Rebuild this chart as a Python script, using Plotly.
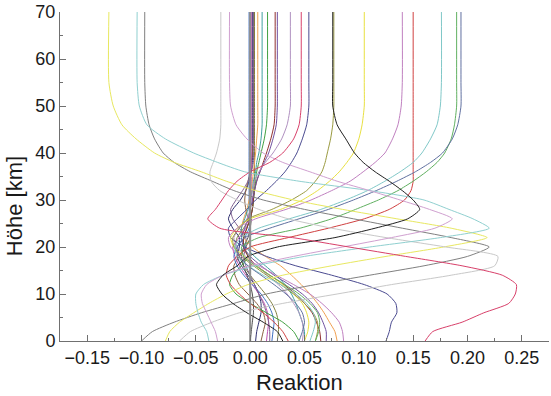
import plotly.graph_objects as go

# Heights (km) at which each response curve is sampled
H = [0, 2, 4, 6, 8, 10, 12, 14, 16, 18, 20, 22, 24, 26, 28, 30, 32, 34, 36, 38, 40, 43, 46, 50, 55, 70]

gray_k = [-0.100, -0.090, -0.070, -0.045, -0.015, 0.015, 0.060, 0.110, 0.160, 0.200, 0.220, 0.185, 0.140, 0.095, 0.050, 0.012, -0.015, -0.035, -0.055, -0.070, -0.080, -0.088, -0.093, -0.096, -0.097, -0.097]
yellow_k = [-0.078, -0.074, -0.065, -0.052, -0.038, -0.022, -0.002, 0.030, 0.075, 0.125, 0.178, 0.218, 0.185, 0.135, 0.085, 0.040, 0.005, -0.022, -0.045, -0.070, -0.088, -0.105, -0.118, -0.126, -0.130, -0.130]
ltgray_k = [-0.065, -0.055, -0.035, -0.010, 0.030, 0.080, 0.130, 0.185, 0.225, 0.228, 0.180, 0.125, 0.075, 0.035, 0.008, -0.012, -0.028, -0.036, -0.037, -0.034, -0.031, -0.028, -0.027, -0.027, -0.027, -0.027]
ltcyan_k = [-0.038, -0.040, -0.045, -0.048, -0.050, -0.050, -0.043, -0.025, 0.005, 0.050, 0.110, 0.175, 0.220, 0.205, 0.183, 0.160, 0.110, 0.045, -0.005, -0.030, -0.052, -0.078, -0.095, -0.102, -0.104, -0.104]
orchid_k = [-0.030, -0.032, -0.036, -0.040, -0.044, -0.045, -0.040, -0.025, 0.000, 0.040, 0.085, 0.130, 0.170, 0.186, 0.165, 0.138, 0.110, 0.080, 0.055, 0.030, 0.012, -0.003, -0.013, -0.018, -0.019, -0.019]
black_k = [0.030, 0.025, 0.012, -0.003, -0.016, -0.026, -0.031, -0.025, -0.012, -0.002, 0.025, 0.078, 0.115, 0.145, 0.156, 0.150, 0.140, 0.128, 0.115, 0.104, 0.096, 0.088, 0.080, 0.076, 0.076, 0.076]
crimson_k = [0.161, 0.168, 0.195, 0.215, 0.238, 0.244, 0.245, 0.232, 0.195, 0.143, 0.091, 0.039, -0.028, -0.039, -0.032, -0.026, -0.020, -0.012, 0.000, 0.018, 0.030, 0.040, 0.045, 0.047, 0.047, 0.047]
navy_k = [0.125, 0.128, 0.130, 0.135, 0.134, 0.126, 0.105, 0.075, 0.042, 0.015, -0.005, -0.018, -0.020, -0.012, -0.003, 0.005, 0.015, 0.024, 0.032, 0.038, 0.043, 0.048, 0.052, 0.054, 0.054, 0.054]
yellow2_k = [0.050, 0.053, 0.054, 0.052, 0.048, 0.040, 0.030, 0.018, 0.005, -0.005, -0.015, -0.018, -0.012, 0.000, 0.028, 0.048, 0.062, 0.073, 0.082, 0.089, 0.095, 0.100, 0.103, 0.105, 0.105, 0.105]
olive_k = [0.060, 0.062, 0.062, 0.058, 0.050, 0.040, 0.028, 0.015, 0.003, -0.008, -0.015, -0.016, -0.010, -0.002, 0.020, 0.038, 0.052, 0.060, 0.066, 0.069, 0.071, 0.074, 0.076, 0.077, 0.077, 0.077]
orchid2_k = [0.086, 0.085, 0.082, 0.075, 0.066, 0.055, 0.040, 0.024, 0.008, -0.008, -0.018, -0.020, -0.012, 0.005, 0.033, 0.056, 0.075, 0.092, 0.104, 0.115, 0.124, 0.131, 0.136, 0.139, 0.140, 0.140]
red_k = [0.035, 0.030, 0.022, 0.012, 0.000, -0.010, -0.018, -0.022, -0.020, -0.012, 0.000, 0.035, 0.072, 0.105, 0.128, 0.142, 0.148, 0.150, 0.150, 0.150, 0.150, 0.150, 0.150, 0.150, 0.150, 0.150]
cyan2_k = [0.055, 0.058, 0.060, 0.058, 0.052, 0.042, 0.028, 0.012, -0.002, -0.012, -0.014, -0.008, 0.008, 0.036, 0.065, 0.088, 0.108, 0.124, 0.138, 0.150, 0.158, 0.166, 0.172, 0.175, 0.176, 0.176]
green2_k = [0.060, 0.063, 0.064, 0.062, 0.055, 0.045, 0.032, 0.018, 0.005, -0.006, -0.008, 0.008, 0.046, 0.075, 0.097, 0.118, 0.136, 0.150, 0.162, 0.172, 0.179, 0.185, 0.188, 0.190, 0.190, 0.190]
slate2_k = [0.045, 0.048, 0.050, 0.048, 0.042, 0.033, 0.022, 0.010, -0.002, -0.010, -0.012, -0.005, 0.018, 0.045, 0.072, 0.095, 0.116, 0.135, 0.152, 0.166, 0.177, 0.186, 0.191, 0.194, 0.194, 0.194]
orange_k = [0.080, 0.078, 0.073, 0.068, 0.062, 0.055, 0.047, 0.038, 0.028, 0.014, 0.002, -0.006, -0.008, -0.006, -0.003, -0.001, 0.001, 0.002, 0.003, 0.004, 0.005, 0.006, 0.007, 0.007, 0.007, 0.007]
teal_k = [0.050, 0.050, 0.048, 0.045, 0.042, 0.038, 0.032, 0.024, 0.014, 0.004, -0.004, -0.008, -0.008, -0.005, -0.002, 0.000, 0.002, 0.003, 0.005, 0.006, 0.008, 0.010, 0.011, 0.011, 0.011, 0.011]
green_k = [0.045, 0.040, 0.030, 0.015, 0.000, -0.013, -0.019, -0.016, -0.008, -0.002, -0.006, -0.006, -0.003, 0.000, 0.002, 0.003, 0.004, 0.005, 0.006, 0.008, 0.010, 0.013, 0.015, 0.016, 0.016, 0.016]
darkred_k = [0.065, 0.064, 0.061, 0.057, 0.050, 0.042, 0.031, 0.018, 0.006, -0.002, -0.006, -0.006, -0.003, 0.000, 0.002, 0.003, 0.004, 0.006, 0.009, 0.012, 0.015, 0.019, 0.022, 0.023, 0.023, 0.023]
purple_k = [0.070, 0.070, 0.067, 0.063, 0.057, 0.048, 0.036, 0.022, 0.010, 0.000, -0.006, -0.008, -0.005, -0.002, 0.000, 0.002, 0.004, 0.006, 0.009, 0.013, 0.017, 0.021, 0.024, 0.025, 0.025, 0.025]
ltpurple_k = [0.048, 0.049, 0.048, 0.045, 0.040, 0.034, 0.026, 0.016, 0.006, -0.004, -0.012, -0.015, -0.010, -0.003, 0.000, 0.001, 0.002, 0.004, 0.008, 0.014, 0.021, 0.029, 0.034, 0.037, 0.037, 0.037]
bnavy_k = [0.005, 0.006, 0.008, 0.010, 0.010, 0.008, 0.004, -0.002, -0.008, -0.012, -0.010, -0.010, -0.016, -0.020, -0.016, -0.009, -0.004, -0.001, 0.001, 0.002, 0.002, 0.002, 0.002, 0.002, 0.002, 0.002]
bbrown_k = [0.010, 0.012, 0.014, 0.012, 0.006, -0.002, -0.010, -0.014, -0.015, -0.010, -0.004, 0.000, 0.000, -0.002, -0.004, -0.005, -0.004, -0.002, 0.000, 0.001, 0.002, 0.003, 0.003, 0.003, 0.003, 0.003]
bmag_k = [0.015, 0.016, 0.017, 0.016, 0.013, 0.008, 0.002, -0.004, -0.010, -0.014, -0.016, -0.010, -0.004, 0.000, 0.002, 0.002, 0.001, 0.001, 0.001, 0.001, 0.001, 0.001, 0.001, 0.001, 0.001, 0.001]
bblue_k = [0.020, 0.021, 0.022, 0.020, 0.016, 0.010, 0.002, -0.006, -0.012, -0.015, -0.012, -0.005, -0.001, 0.000, -0.001, -0.001, -0.001, -0.001, -0.001, -0.001, -0.001, -0.001, -0.001, -0.001, -0.001, -0.001]
bolive_k = [0.025, 0.026, 0.026, 0.024, 0.020, 0.014, 0.007, 0.000, -0.006, -0.010, -0.014, -0.012, -0.006, -0.001, 0.002, 0.003, 0.003, 0.004, 0.004, 0.004, 0.004, 0.004, 0.004, 0.004, 0.004, 0.004]
bpurple_k = [0.018, 0.018, 0.017, 0.015, 0.012, 0.008, 0.004, 0.000, -0.004, -0.006, -0.004, -0.004, -0.010, -0.016, -0.018, -0.013, -0.007, -0.002, 0.001, 0.003, 0.003, 0.003, 0.003, 0.003, 0.003, 0.003]
bdgray_k = [0.000, 0.001, 0.002, 0.003, 0.003, 0.002, 0.000, -0.003, -0.006, -0.008, -0.006, -0.002, 0.000, 0.001, 0.000, 0.000, 0.000, 0.000, 0.000, 0.000, 0.000, 0.000, 0.000, 0.000, 0.000, 0.000]
zero_k = [0.000, 0.000, 0.000, 0.000, 0.000, 0.000, 0.000, 0.000, 0.000, 0.000, 0.000, 0.000, 0.000, 0.000, 0.000, 0.000, 0.000, 0.000, 0.000, 0.000, 0.000, 0.000, 0.000, 0.000, 0.000, 0.000]

series = [
    (bnavy_k, "#303070", 1), (bbrown_k, "#8a6040", 1), (bmag_k, "#c050b0", 1),
    (bblue_k, "#4070c0", 1), (bolive_k, "#808040", 1), (bpurple_k, "#806090", 1),
    (bdgray_k, "#505050", 1),
    (orange_k, "#f0a050", 1), (teal_k, "#40a0a0", 1), (green_k, "#40a040", 1),
    (darkred_k, "#903030", 1), (purple_k, "#7050a0", 1), (ltpurple_k, "#b090c0", 1),
    (navy_k, "#4a4a90", 1), (yellow2_k, "#e8e040", 1), (olive_k, "#9a9a40", 1),
    (orchid2_k, "#c080c0", 1), (red_k, "#d04040", 1), (cyan2_k, "#80c8c8", 1),
    (green2_k, "#60b060", 1), (slate2_k, "#6070a0", 1),
    (gray_k, "#808080", 1), (yellow_k, "#e8e860", 1), (ltgray_k, "#c8c8c8", 1),
    (ltcyan_k, "#90d0d0", 1), (orchid_k, "#d0a0d0", 1), (black_k, "#202020", 1),
    (crimson_k, "#d8406a", 1), (zero_k, "#909090", 2),
]

fig = go.Figure()
for xs, col, w in series:
    fig.add_trace(go.Scatter(x=xs, y=H, mode="lines",
                             line=dict(color=col, width=w, shape="spline", smoothing=0.6),
                             showlegend=False, hoverinfo="skip"))

font = "Liberation Sans, Arial, sans-serif"
fig.update_layout(
    width=551, height=396,
    margin=dict(l=60, r=2, t=10, b=55),
    paper_bgcolor="white", plot_bgcolor="white",
    font=dict(family=font, size=18, color="#1a1a1a"),
    xaxis=dict(range=[-0.175, 0.275], dtick=0.05, tick0=0, tickformat=".2f",
               showgrid=False, zeroline=False, showline=True, linecolor="#707070", linewidth=1,
               ticks="inside", ticklen=6, tickcolor="#707070",
               minor=dict(dtick=0.025, ticks="inside", ticklen=3, tickcolor="#707070"),
               tickfont=dict(size=18)),
    yaxis=dict(range=[0, 70], dtick=10, showgrid=False, zeroline=False, showline=True,
               linecolor="#707070", linewidth=1, ticks="inside", ticklen=6, tickcolor="#707070",
               minor=dict(dtick=5, ticks="inside", ticklen=3, tickcolor="#707070"),
               tickfont=dict(size=18)),
    annotations=[
        dict(text="Reaktion", xref="paper", yref="paper", x=0.49, y=-0.127,
             showarrow=False, font=dict(size=22, family=font, color="#1a1a1a"),
             xanchor="center", yanchor="middle"),
        dict(text="Höhe [km]", xref="paper", yref="paper", x=-0.094, y=0.41,
             showarrow=False, textangle=-90, font=dict(size=22, family=font, color="#1a1a1a"),
             xanchor="center", yanchor="middle"),
    ],
)
fig.write_html("out.html", config={"displayModeBar": False},
               post_script="document.body.style.margin='0';")
